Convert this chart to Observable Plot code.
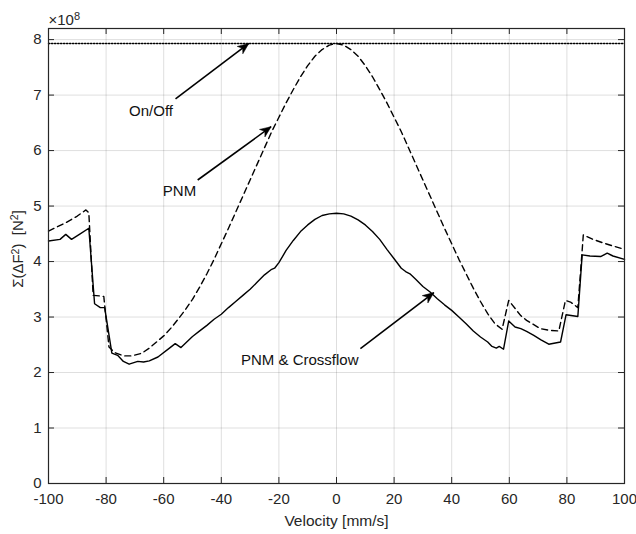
<!DOCTYPE html>
<html>
<head>
<meta charset="utf-8">
<script src="https://cdn.jsdelivr.net/npm/d3@7"></script>
<script src="https://cdn.jsdelivr.net/npm/@observablehq/plot@0.6"></script>
<style>
  html, body { margin: 0; padding: 0; background: #fff; }
  #chart { width: 636px; height: 534px; }
</style>
</head>
<body>
<div id="chart"></div>
<script>
// ---- Data (values of sum(dF^2) in units of 1e8 N^2) ----
const xTicks = [-100, -80, -60, -40, -20, 0, 20, 40, 60, 80, 100];
const yTicks = [0, 1, 2, 3, 4, 5, 6, 7, 8];

// PNM (dashed)
const pnmVel = [-100, -94, -90, -87, -86, -84.5, -82, -80.8, -79, -77, -74, -71, -67.5, -65, -62.5, -60, -57.5, -55, -52.5, -50, -47.5, -45, -42.5, -40, -37.5, -35, -32.5, -30, -27.5, -25, -22.5, -20, -17.5, -15, -12.5, -10, -7.5, -5, -2.5, 0, 2.5, 5, 7.5, 10, 12.5, 15, 17.5, 20, 22.5, 25, 27.5, 30, 32.5, 35, 37.5, 40, 42.5, 45, 47.5, 50, 52.5, 55, 57.5, 59.8, 63.9, 66, 70.8, 74, 77.2, 79.5, 81.25, 83.8, 85.7, 89, 92.9, 96, 100];
const pnmVal = [4.55, 4.70, 4.82, 4.93, 4.88, 3.39, 3.38, 3.37, 2.46, 2.36, 2.30, 2.30, 2.35, 2.44, 2.55, 2.66, 2.80, 2.96, 3.13, 3.32, 3.54, 3.78, 4.04, 4.32, 4.60, 4.89, 5.18, 5.47, 5.76, 6.05, 6.34, 6.60, 6.86, 7.10, 7.33, 7.53, 7.70, 7.82, 7.90, 7.93, 7.90, 7.82, 7.70, 7.53, 7.33, 7.10, 6.86, 6.60, 6.34, 6.05, 5.76, 5.47, 5.18, 4.89, 4.60, 4.32, 4.04, 3.78, 3.52, 3.28, 3.06, 2.88, 2.78, 3.30, 3.03, 2.94, 2.79, 2.76, 2.75, 3.30, 3.27, 3.17, 4.48, 4.40, 4.33, 4.28, 4.22];

// PNM & Crossflow (solid)
const crossVel = [-100, -96, -94, -92, -89, -86, -84, -82, -80.5, -78, -76, -74, -72, -69, -67, -65, -62, -58, -56, -54, -50, -47.5, -45, -42.5, -40, -37.5, -35, -32.5, -30, -27.5, -25, -22.5, -21.5, -20, -17.5, -15, -12.5, -10, -7.5, -5, -2.5, 0, 2.5, 5, 7.5, 10, 12.5, 15, 17.5, 20, 22.5, 24, 25.5, 27.5, 30, 32.5, 35, 37.5, 40, 42.5, 45, 47.5, 50, 52.5, 54, 55.5, 56.5, 58, 59.8, 62, 64, 66, 68.5, 71, 73.7, 77.8, 79.7, 83.8, 85.3, 88, 91.7, 94, 96, 100];
const crossVal = [4.37, 4.40, 4.49, 4.40, 4.50, 4.60, 3.24, 3.17, 3.17, 2.35, 2.31, 2.20, 2.15, 2.20, 2.19, 2.21, 2.28, 2.44, 2.52, 2.45, 2.65, 2.75, 2.85, 2.96, 3.05, 3.17, 3.28, 3.39, 3.50, 3.63, 3.76, 3.86, 3.88, 3.98, 4.20, 4.38, 4.54, 4.66, 4.76, 4.83, 4.86, 4.87, 4.86, 4.82, 4.75, 4.66, 4.54, 4.40, 4.22, 4.05, 3.88, 3.82, 3.78, 3.68, 3.55, 3.45, 3.33, 3.22, 3.12, 3.00, 2.88, 2.75, 2.64, 2.55, 2.47, 2.44, 2.47, 2.42, 2.93, 2.82, 2.79, 2.74, 2.67, 2.59, 2.51, 2.55, 3.04, 3.01, 4.12, 4.10, 4.09, 4.15, 4.10, 4.04];

// On/Off (dotted, constant)
const onOffVel = [-100, 100];
const onOffVal = [7.93, 7.93];

// Annotations
const annText = ["On/Off", "PNM", "PNM & Crossflow"];
const annTextX = [-64.4, -54.5, -12.75];
const annTextY = [6.71, 5.26, 2.22];
const arrowFromX = [-55.9, -48.2, 8.3];
const arrowFromY = [6.93, 5.47, 2.43];
const arrowToX = [-30.45, -22.7, 33.8];
const arrowToY = [7.93, 6.43, 3.44];

const xLabel = "Velocity [mm/s]";
const yLabelParts = [["Σ(ΔF", false], ["2", true], [")  [N", false], ["2", true], ["]", false]];
const expParts = [["×10", false], ["8", true]];

// ---- Layout ----
const W = 636, H = 534, ML = 48, MR = 12, MT = 28, MB = 51;
const xDomain = [-100, 100], yDomain = [0, 8.2];
const FW = W - ML - MR, FH = H - MT - MB;
const px = v => ML + (v - xDomain[0]) / (xDomain[1] - xDomain[0]) * FW;
const py = v => H - MB - (v - yDomain[0]) / (yDomain[1] - yDomain[0]) * FH;

const toRows = (xs, ys) => xs.map((x, i) => ({x, y: ys[i]}));
const pnm = toRows(pnmVel, pnmVal);
const cross = toRows(crossVel, crossVal);
const onoff = toRows(onOffVel, onOffVal);
const idx = annText.map((_, i) => i);

const arrowHead = {
  draw(ctx, size) {
    const r = Math.sqrt(size / Math.PI);
    const L = r, w = r * 0.42;
    ctx.moveTo(0, 0);
    ctx.lineTo(w, L);
    ctx.lineTo(0, L * 0.7);
    ctx.lineTo(-w, L);
    ctx.closePath();
  }
};
const angle = i => {
  const dx = px(arrowToX[i]) - px(arrowFromX[i]);
  const dy = py(arrowToY[i]) - py(arrowFromY[i]);
  return Math.atan2(dx, -dy) * 180 / Math.PI;
};

const ink = "#262626";
const TL = 6;
const plain = parts => parts.map(d => d[0]).join("");
const yLabelPlain = plain(yLabelParts);
const expPlain = plain(expParts);

const chart = Plot.plot({
  width: W, height: H,
  marginLeft: ML, marginRight: MR, marginTop: MT, marginBottom: MB,
  style: {fontFamily: "'Liberation Sans', Arial, Helvetica, sans-serif", fontSize: "15px", color: ink, background: "#fff", overflow: "visible"},
  x: {domain: xDomain},
  y: {domain: yDomain},
  marks: [
    Plot.gridX(xTicks, {stroke: "#000", strokeOpacity: 0.13}),
    Plot.gridY(yTicks, {stroke: "#000", strokeOpacity: 0.13}),
    Plot.line(onoff, {x: "x", y: "y", stroke: "#000", strokeWidth: 1.4, strokeDasharray: "1.4,1.6"}),
    Plot.line(pnm, {x: "x", y: "y", stroke: "#000", strokeWidth: 1.4, strokeDasharray: "6,4"}),
    Plot.line(cross, {x: "x", y: "y", stroke: "#000", strokeWidth: 1.4}),
    Plot.frame({stroke: ink, strokeWidth: 1.2}),
    // inward ticks on all four sides
    Plot.tickX(xTicks, {x: d => d, stroke: ink, insetTop: FH - TL}),
    Plot.tickX(xTicks, {x: d => d, stroke: ink, insetBottom: FH - TL}),
    Plot.tickY(yTicks, {y: d => d, stroke: ink, insetRight: FW - TL}),
    Plot.tickY(yTicks, {y: d => d, stroke: ink, insetLeft: FW - TL}),
    Plot.axisX(xTicks, {tickSize: 0, tickPadding: 10, tickFormat: d => String(d), label: null, fontSize: 15, fill: ink}),
    Plot.axisY(yTicks, {tickSize: 0, tickPadding: 7, tickFormat: d => String(d), label: null, fontSize: 15, fill: ink}),
    // axis titles
    Plot.text([xLabel], {frameAnchor: "bottom", textAnchor: "middle", dy: 38, lineAnchor: "middle", fontSize: 15.5, fill: ink}),
    Plot.text([yLabelPlain], {frameAnchor: "left", textAnchor: "middle", dx: -30, dy: -7, rotate: -90, lineAnchor: "middle", fontSize: 15, fill: ink}),
    // exponent (anchored at the top-left corner of the axes)
    Plot.text([expPlain], {x: () => xDomain[0], y: () => yDomain[1], textAnchor: "start", lineAnchor: "middle", dx: 0, dy: -8, fontSize: 15, fill: ink}),
    // annotations
    Plot.link(idx, {x1: i => arrowFromX[i], y1: i => arrowFromY[i], x2: i => arrowToX[i], y2: i => arrowToY[i], stroke: "#000", strokeWidth: 1.6}),
    Plot.dot(idx, {x: i => arrowToX[i], y: i => arrowToY[i], r: 11, symbol: arrowHead, fill: "#000", stroke: "#000", strokeWidth: 0.5, rotate: angle}),
    Plot.text(idx, {x: i => annTextX[i], y: i => annTextY[i], text: i => annText[i], fontSize: 15, fill: "#111", lineAnchor: "middle"})
  ]
});
document.getElementById("chart").appendChild(chart);

// Rebuild texts with true superscripts
function superscript(plainText, parts, supSize) {
  d3.select(chart).selectAll("text")
    .filter(function() { return this.textContent === plainText; })
    .each(function() {
      const t = d3.select(this);
      t.text(null).style("white-space", "pre");
      parts.forEach(([s, sup], i) => {
        const ts = t.append("tspan").text(s);
        const prevSup = i > 0 && parts[i - 1][1];
        if (sup) ts.attr("font-size", supSize).attr("dy", "-0.45em");
        else if (prevSup) ts.attr("dy", "0.3em");
      });
    });
}
superscript(yLabelPlain, yLabelParts, 10.5);
superscript(expPlain, expParts, 11);
</script>
</body>
</html>
